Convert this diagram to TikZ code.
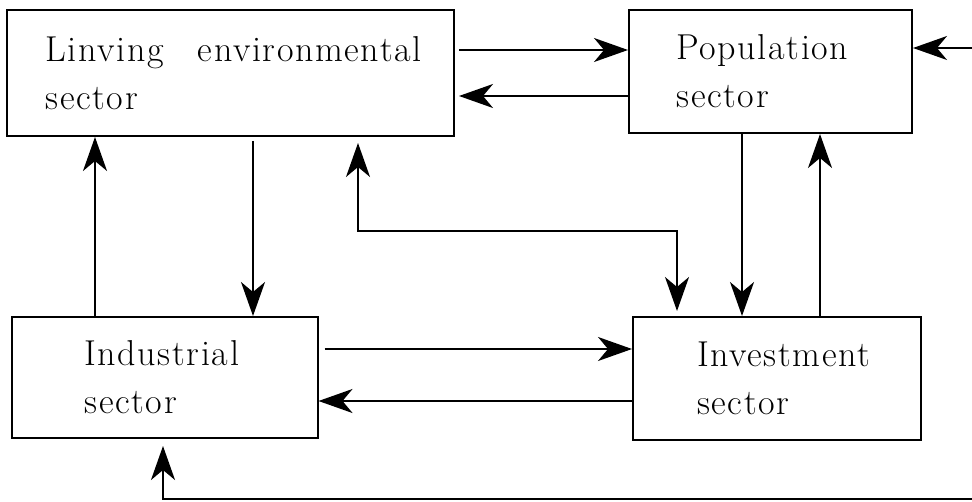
\documentclass[tikz,border=0pt]{standalone}
\usepackage{fontspec}
\usetikzlibrary{arrows.meta}
\newfontfamily\sectorfont{Latin Modern Roman}[LetterSpace=4.5]
\begin{document}
\begin{tikzpicture}[x=0.5pt, y=-0.5pt,
    sector/.style={draw, line width=1pt, align=left, inner sep=0pt,
        font=\sectorfont\fontsize{18}{24}\selectfont},
    arr/.style={line width=0.9pt, -{Stealth[length=17pt, width=12pt, inset=5pt]}},
    darr/.style={line width=0.9pt, {Stealth[length=17pt, width=12pt, inset=5pt]}-{Stealth[length=17pt, width=12pt, inset=5pt]}}]
        \useasboundingbox (0,0) rectangle (972,502);
        % sectors
        \node[sector, minimum width=223.5pt, minimum height=63pt, text width=185pt] (living) at (230.5,73) {\mbox{Linving\hspace{11pt} environmental}\\sector};
        \node[sector, minimum width=141.5pt, minimum height=61.5pt, text width=94pt] (pop) at (770.5,71.5) {Population\\sector};
        \node[sector, minimum width=153pt, minimum height=60.5pt, text width=80pt] (ind) at (164.5,377.5) {Industrial\\sector};
        \node[sector, minimum width=144pt, minimum height=61.5pt, text width=80pt] (inv) at (777,378.5) {Investment\\sector};
        % outside inputs
        \coordinate (inpop) at (972,48);
        \coordinate (inind) at (972,499);
        % flows
        \draw[arr] ([xshift=2pt, yshift=11.5pt]living.east) -- ([yshift=10.75pt]pop.west);
        \draw[arr] ([yshift=-12.25pt]pop.west) -- ([xshift=2pt, yshift=-11.5pt]living.east);
        \draw[arr] ([xshift=3pt, yshift=14.25pt]ind.east) -- ([yshift=14.75pt]inv.west);
        \draw[arr] ([yshift=-11.25pt]inv.west) -- ([yshift=-11.75pt]ind.east);
        \draw[arr] ([xshift=11.25pt, yshift=-2pt]living.south) -- ([xshift=44.25pt]ind.north);
        \draw[arr] ([xshift=-34.75pt]ind.north) -- ([xshift=-67.75pt]living.south);
        \draw[darr] ([xshift=63.75pt, yshift=-3pt]living.south) -- ++(0,88) -| ([xshift=-50pt, yshift=2.5pt]inv.north);
        \draw[arr] ([xshift=-14.25pt]pop.south) -- ([xshift=-17.5pt]inv.north);
        \draw[arr] ([xshift=21.5pt]inv.north) -- ([xshift=24.75pt]pop.south);
        \draw[arr] (inpop) -- ([yshift=11.75pt]pop.east);
        \draw[arr] (inind) -| ([xshift=-0.75pt, yshift=-3.5pt]ind.south);
\end{tikzpicture}
\end{document}
